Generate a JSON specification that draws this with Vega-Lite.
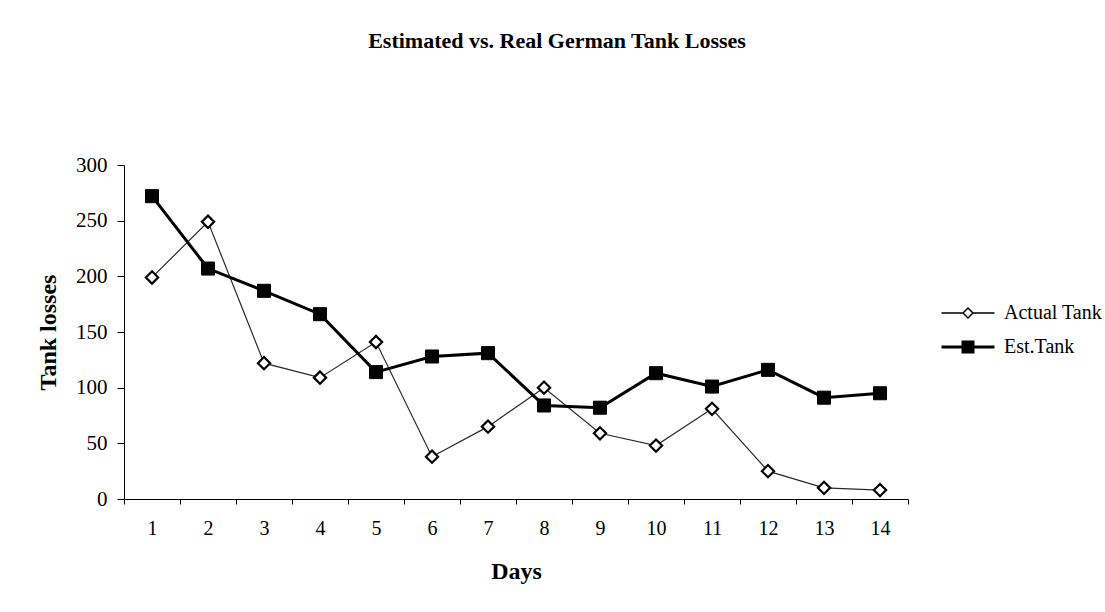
{
  "$schema": "https://vega.github.io/schema/vega-lite/v6.json",
  "autosize": {"type": "none"},
  "width": 784,
  "height": 334,
  "padding": {"left": 124, "top": 165, "right": 197, "bottom": 113},
  "background": "white",
  "title": {
    "text": "Estimated vs. Real German Tank Losses",
    "font": "Liberation Serif",
    "fontSize": 22,
    "fontWeight": "bold",
    "color": "black",
    "anchor": "middle",
    "frame": "group",
    "baseline": "alphabetic",
    "offset": 0,
    "dx": 41,
    "dy": -84
  },
  "config": {
    "view": {"stroke": null},
    "font": "Liberation Serif"
  },
  "data": {
    "values": [
      {"day": 1, "series": "Actual Tank", "value": 199},
      {"day": 2, "series": "Actual Tank", "value": 249},
      {"day": 3, "series": "Actual Tank", "value": 122},
      {"day": 4, "series": "Actual Tank", "value": 109},
      {"day": 5, "series": "Actual Tank", "value": 141},
      {"day": 6, "series": "Actual Tank", "value": 38},
      {"day": 7, "series": "Actual Tank", "value": 65},
      {"day": 8, "series": "Actual Tank", "value": 100},
      {"day": 9, "series": "Actual Tank", "value": 59},
      {"day": 10, "series": "Actual Tank", "value": 48},
      {"day": 11, "series": "Actual Tank", "value": 81},
      {"day": 12, "series": "Actual Tank", "value": 25},
      {"day": 13, "series": "Actual Tank", "value": 10},
      {"day": 14, "series": "Actual Tank", "value": 8},
      {"day": 1, "series": "Est.Tank", "value": 272},
      {"day": 2, "series": "Est.Tank", "value": 207},
      {"day": 3, "series": "Est.Tank", "value": 187},
      {"day": 4, "series": "Est.Tank", "value": 166},
      {"day": 5, "series": "Est.Tank", "value": 114},
      {"day": 6, "series": "Est.Tank", "value": 128},
      {"day": 7, "series": "Est.Tank", "value": 131},
      {"day": 8, "series": "Est.Tank", "value": 84},
      {"day": 9, "series": "Est.Tank", "value": 82},
      {"day": 10, "series": "Est.Tank", "value": 113},
      {"day": 11, "series": "Est.Tank", "value": 101},
      {"day": 12, "series": "Est.Tank", "value": 116},
      {"day": 13, "series": "Est.Tank", "value": 91},
      {"day": 14, "series": "Est.Tank", "value": 95}
    ]
  },
  "encoding": {
    "x": {
      "field": "day",
      "type": "ordinal",
      "bandPosition": 0.5,
      "scale": {"type": "band", "paddingInner": 0, "paddingOuter": 0},
      "axis": {
        "title": "Days",
        "labelAngle": 0,
        "tickBand": "extent",
        "domainColor": "black",
        "tickColor": "black",
        "tickSize": 5,
        "labelFont": "Liberation Serif",
        "labelFontSize": 20,
        "labelColor": "black",
        "labelPadding": 14,
        "titleFont": "Liberation Serif",
        "titleFontSize": 24,
        "titleFontWeight": "bold",
        "titleColor": "black",
        "titleBaseline": "alphabetic",
        "titleY": 79,
        "grid": false
      }
    },
    "y": {
      "field": "value",
      "type": "quantitative",
      "scale": {"domain": [0, 300], "nice": false},
      "axis": {
        "title": "Tank losses",
        "values": [0, 50, 100, 150, 200, 250, 300],
        "grid": false,
        "domainColor": "black",
        "tickColor": "black",
        "tickSize": 7,
        "labelFont": "Liberation Serif",
        "labelFontSize": 21,
        "labelColor": "black",
        "labelPadding": 10,
        "titleFont": "Liberation Serif",
        "titleFontSize": 24,
        "titleFontWeight": "bold",
        "titleColor": "black",
        "titleX": -64
      }
    }
  },
  "layer": [
    {
      "transform": [{"filter": "datum.series === 'Actual Tank'"}],
      "mark": {"type": "line", "stroke": "#2a2a2a", "strokeWidth": 1.2}
    },
    {
      "transform": [{"filter": "datum.series === 'Est.Tank'"}],
      "mark": {"type": "line", "stroke": "black", "strokeWidth": 3}
    },
    {
      "transform": [{"filter": "datum.series === 'Actual Tank'"}],
      "mark": {"type": "point", "shape": "diamond", "filled": true, "fill": "white", "stroke": "black", "strokeWidth": 2.2, "size": 150, "opacity": 1}
    },
    {
      "transform": [{"filter": "datum.series === 'Est.Tank'"}],
      "mark": {"type": "point", "shape": "square", "filled": true, "fill": "black", "stroke": "black", "strokeWidth": 1, "size": 170, "opacity": 1}
    },
    {
      "mark": {"type": "point", "opacity": 0, "filled": true, "stroke": "black"},
      "encoding": {
        "shape": {
          "field": "series",
          "type": "nominal",
          "scale": {
            "domain": ["Actual Tank", "Est.Tank"],
            "range": ["M-5.3,0H-1M1,0H5.3M0,-1L1,0L0,1L-1,0Z", "M-5.3,0H-1M1,0H5.3M-1,-1H1V1H-1Z"]
          },
          "legend": {
            "title": null,
            "orient": "none",
            "legendX": 834,
            "legendY": 138,
            "labelFont": "Liberation Serif",
            "labelFontSize": 20,
            "labelColor": "black",
            "labelOffset": 26,
            "rowPadding": 13,
            "symbolSize": 100,
            "symbolStrokeColor": "black",
            "encode": {"symbols": {"update": {"opacity": {"value": 1}, "stroke": {"value": "black"}}}}
          }
        },
        "fill": {
          "field": "series",
          "type": "nominal",
          "scale": {"domain": ["Actual Tank", "Est.Tank"], "range": ["white", "black"]},
          "legend": {
            "title": null,
            "orient": "none",
            "legendX": 834,
            "legendY": 138,
            "labelFont": "Liberation Serif",
            "labelFontSize": 20,
            "labelColor": "black",
            "labelOffset": 26,
            "rowPadding": 13,
            "symbolSize": 100,
            "symbolStrokeColor": "black",
            "encode": {"symbols": {"update": {"opacity": {"value": 1}, "stroke": {"value": "black"}}}}
          }
        },
        "strokeWidth": {
          "field": "series",
          "type": "nominal",
          "scale": {"domain": ["Actual Tank", "Est.Tank"], "range": [1.5, 3]},
          "legend": {
            "title": null,
            "orient": "none",
            "legendX": 834,
            "legendY": 138,
            "labelFont": "Liberation Serif",
            "labelFontSize": 20,
            "labelColor": "black",
            "labelOffset": 26,
            "rowPadding": 13,
            "symbolSize": 100,
            "symbolStrokeColor": "black",
            "encode": {"symbols": {"update": {"opacity": {"value": 1}, "stroke": {"value": "black"}}}}
          }
        }
      }
    }
  ]
}
